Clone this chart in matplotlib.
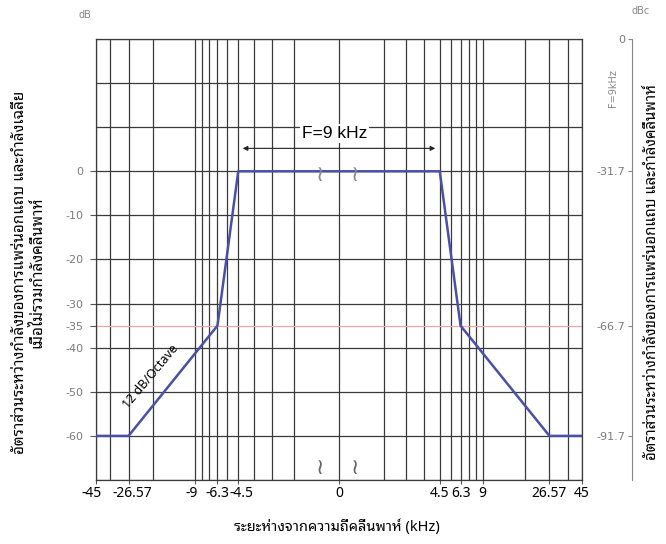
import numpy as np
import matplotlib
matplotlib.use("Agg")
import matplotlib.pyplot as plt
from matplotlib.transforms import ScaledTranslation

plt.rcParams["font.family"] = ["Noto Sans Thai Looped", "Noto Sans", "DejaVu Sans"]

# mask data (kHz offset from carrier, dB)
freq = [-45, -26.57, -6.3, -4.5, 4.5, 6.3, 26.57, 45]
level = [-60, -60, -35, 0, 0, -35, -60, -60]

xticks = [-45, -26.57, -9, -6.3, -4.5, 0, 4.5, 6.3, 9, 26.57, 45]
xticklabels = ["-45", "-26.57", "-9", "-6.3", "-4.5", "0", "4.5", "6.3", "9", "26.57", "45"]
xgrid = [2, 3, 3.8, 4.5, 5.4, 6.3, 7.2, 8.1, 9, 18, 26.57, 36, 45]

yticks = [0, -10, -20, -30, -35, -40, -50, -60]
ygrid = [30, 20, 10, 0, -10, -20, -30, -40, -50, -60, -70]
dbc_pos = [30, 0, -35, -60]
dbc_labels = ["0", "-31.7", "-66.7", "-91.7"]


# linear inside +-4.5 kHz, log (per octave) outside
def fwd(f):
    f = np.asarray(f, dtype=float)
    a = np.abs(f)
    out = np.where(a <= 4.5, a / 4.5 * 100, 100 + 42.5 * np.log2(np.maximum(a, 4.5) / 4.5))
    return np.sign(f) * out


def inv(p):
    p = np.asarray(p, dtype=float)
    a = np.abs(p)
    out = np.where(a <= 100, a / 100 * 4.5, 4.5 * 2 ** ((np.maximum(a, 100) - 100) / 42.5))
    return np.sign(p) * out


fig = plt.figure(figsize=(6.66, 5.44), dpi=100)
ax = fig.add_axes([96 / 666, 1 - 480 / 544, 486 / 666, 441 / 544])
ax.set_xscale("function", functions=(fwd, inv))
ax.set_xlim(-45, 45)
ax.set_ylim(-70, 30)

gx = sorted(set([-g for g in xgrid] + [0] + xgrid))
for g in gx:
    ax.axvline(g, color="#3a3a3a", lw=0.9, zorder=1)
for g in ygrid:
    ax.axhline(g, color="#3a3a3a", lw=0.9, zorder=1)
ax.axhline(-35, color="#e9a9a9", lw=0.9, zorder=1)

ax.plot(freq, level, color="#4a4fa8", lw=1.8, zorder=3)

ax.set_xticks(xticks)
ax.set_xticklabels(xticklabels, fontsize=10, family="Noto Sans")
ax.set_yticks(yticks)
ax.set_yticklabels([str(t) for t in yticks], fontsize=8, color="#7a7a7a", family="DejaVu Sans")
ax.tick_params(axis="x", length=3, color="#555555", pad=1)
ax.tick_params(axis="y", length=4, color="#555555", pad=5)
for s in ax.spines.values():
    s.set_color("#3a3a3a")
    s.set_linewidth(0.9)

# nudge crowded tick labels apart a little (points)
nudge = {"-45": -3, "-26.57": 2.5, "-9": -3, "-4.5": 2.5}
for lab in ax.get_xticklabels():
    dx = nudge.get(lab.get_text(), 0)
    if dx:
        lab.set_transform(lab.get_transform() + ScaledTranslation(dx / 72, 0, fig.dpi_scale_trans))

# F = 9 kHz arrow
ax.annotate("", xy=(-4.3, 5.2), xytext=(4.3, 5.2),
            arrowprops=dict(arrowstyle="<|-|>", color="#222222", lw=0.8,
                            mutation_scale=7, shrinkA=0, shrinkB=0), zorder=4)
ax.text(-0.2, 8.6, "F=9 kHz", fontsize=12.5, ha="center", va="center", zorder=5,
        family="Liberation Sans",
        bbox=dict(facecolor="white", edgecolor="none", pad=1.5))

ax.text(-18.5, -46.5, "12 dB/Octave", fontsize=9, rotation=50,
        ha="center", va="center", family="Noto Sans", zorder=4)

# axis break marks
for bx in [-0.85, 0.7]:
    ax.text(bx, -1, "≀", fontsize=16, ha="center", va="center", color="#888888", zorder=4)
    ax.text(bx, -67.5, "≀", fontsize=16, ha="center", va="center", color="#666666", zorder=4)

# dBc axis
ax2 = ax.twinx()
ax2.set_ylim(-70, 30)
ax2.spines["right"].set_visible(False)
ax2.spines["top"].set_visible(False)
ax2.spines["bottom"].set_visible(False)
ax2.spines["left"].set_position(("axes", 1.103))
ax2.spines["left"].set_color("#888888")
ax2.yaxis.tick_left()
ax2.set_yticks(dbc_pos)
ax2.set_yticklabels(dbc_labels, fontsize=8, color="#7a7a7a", family="DejaVu Sans")
ax2.tick_params(axis="y", length=3, color="#888888", pad=2)

fig.text(85 / 666, 1 - 15 / 544, "dB", fontsize=7, color="#888888", ha="center", va="center",
         family="DejaVu Sans")
fig.text(641 / 666, 1 - 11 / 544, "dBc", fontsize=7, color="#888888", ha="center", va="center",
         family="DejaVu Sans")
fig.text(613 / 666, 1 - 88 / 544, "F=9kHz", fontsize=7, color="#888888", rotation=90,
         ha="center", va="center", family="DejaVu Sans")

fig.text(29 / 666, 1 - 272 / 544,
         "อัตราส่วนระหว่างกำลังของการแพร่นอกแถบ และกำลังเฉลี่ย\nเมื่อไม่รวมกำลังคลื่นพาห์",
         rotation=90, fontsize=11, ha="center", va="center", multialignment="center",
         linespacing=1.15)
fig.text(653 / 666, 1 - 272 / 544,
         "อัตราส่วนระหว่างกำลังของการแพร่นอกแถบ และกำลังคลื่นพาห์",
         rotation=90, fontsize=10.8, ha="center", va="center")
fig.text(337 / 666, 1 - 527 / 544, "ระยะห่างจากความถี่คลื่นพาห์ (kHz)",
         fontsize=10.5, ha="center", va="center")

fig.savefig("out.png", dpi=100)
